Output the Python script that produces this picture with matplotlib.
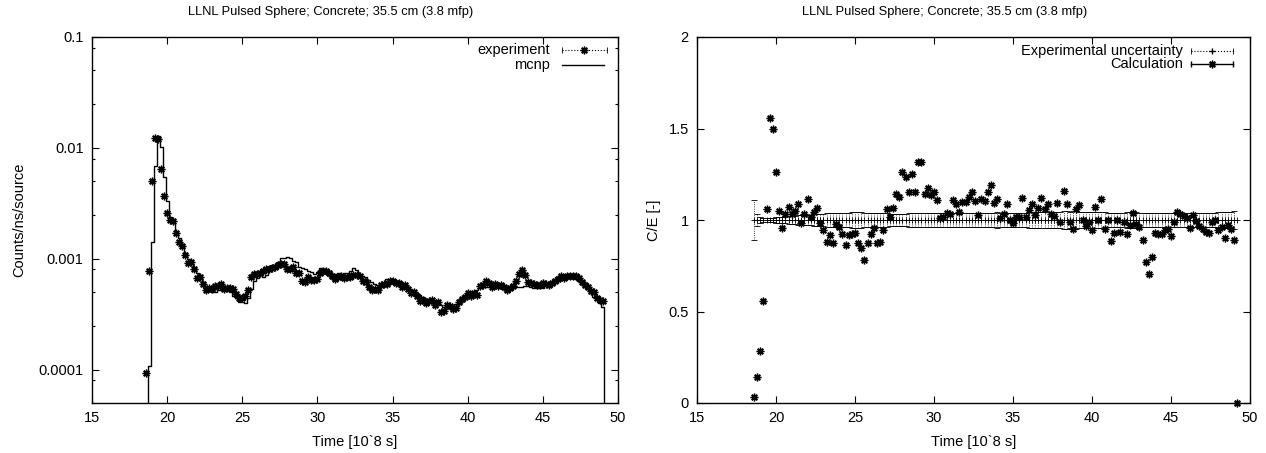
import numpy as np
import matplotlib
matplotlib.use('Agg')
import matplotlib.pyplot as plt
from matplotlib.ticker import FixedLocator, FixedFormatter, FuncFormatter

plt.rcParams['font.family'] = ['Liberation Sans', 'DejaVu Sans']
plt.rcParams['font.size'] = 10.5

title = 'LLNL Pulsed Sphere; Concrete; 35.5 cm (3.8 mfp)'
xlabel = 'Time [10`8 s]'

# time bin centres [10^-8 s], 18.6 ... 49.2 in steps of 0.2
time = np.round(np.arange(18.6, 49.21, 0.2), 1)

# mcnp histogram, counts/ns/source
mcnp = [
    3.2e-6, 1.08e-4, 1.43e-3, 6.85e-3, 1.27e-2, 1.01e-2, 5.5e-3, 3.3e-3, 2.36e-3,
    2.08e-3, 1.75e-3, 1.53e-3, 1.35e-3, 1.13e-3, 9.9e-4, 9.1e-4, 8.3e-4, 7.4e-4, 6.9e-4,
    6.2e-4, 5.6e-4, 5.3e-4, 5.0e-4, 5.0e-4, 5.2e-4, 5.2e-4, 5.2e-4, 5.2e-4, 5.0e-4,
    4.6e-4, 4.4e-4, 4.1e-4, 4.1e-4, 4.0e-4, 4.4e-4, 5.3e-4, 6.3e-4, 6.7e-4, 7.1e-4,
    6.8e-4, 7.1e-4, 7.7e-4, 8.8e-4, 8.6e-4, 9.4e-4, 1.02e-3, 1.02e-3, 1.03e-3, 1.01e-3,
    9.6e-4, 9.3e-4, 8.5e-4, 8.3e-4, 8.1e-4, 7.8e-4, 7.6e-4, 7.3e-4, 7.6e-4, 8.2e-4,
    7.9e-4, 7.9e-4, 7.8e-4, 7.2e-4, 7.3e-4, 7.4e-4, 7.3e-4, 7.4e-4, 7.5e-4, 7.7e-4,
    8.2e-4, 7.9e-4, 7.2e-4, 7.0e-4, 6.8e-4, 6.4e-4, 6.2e-4, 5.9e-4, 5.8e-4, 5.8e-4,
    6.1e-4, 6.5e-4, 6.3e-4, 6.2e-4, 6.1e-4, 6.1e-4, 6.2e-4, 5.9e-4, 5.6e-4, 5.3e-4,
    5.1e-4, 4.9e-4, 4.7e-4, 4.5e-4, 4.3e-4, 4.3e-4, 4.3e-4, 4.2e-4, 4.0e-4, 3.8e-4,
    3.7e-4, 3.8e-4, 3.6e-4, 3.7e-4, 3.9e-4, 4.1e-4, 4.2e-4, 4.5e-4, 4.6e-4, 4.9e-4,
    4.9e-4, 5.2e-4, 5.4e-4, 5.8e-4, 5.6e-4, 5.6e-4, 5.6e-4, 5.5e-4, 5.6e-4, 5.4e-4,
    5.4e-4, 5.4e-4, 5.3e-4, 5.5e-4, 5.6e-4, 5.6e-4, 5.6e-4, 5.7e-4, 5.7e-4, 5.6e-4,
    5.5e-4, 5.5e-4, 5.5e-4, 5.5e-4, 5.8e-4, 6.0e-4, 6.2e-4, 6.4e-4, 6.6e-4, 6.7e-4,
    6.9e-4, 6.9e-4, 6.8e-4, 6.7e-4, 6.5e-4, 6.3e-4, 6.1e-4, 5.8e-4, 5.3e-4, 4.9e-4,
    4.5e-4, 4.3e-4, 4.0e-4, 3.7e-4, 0.0,
]

# C/E ratio (right panel)
c_over_e = [
    0.034, 0.14, 0.286, 0.557, 1.06, 1.56, 1.496, 1.264, 1.05,
    0.955, 1.033, 1.073, 1.031, 1.051, 1.087, 0.982, 1.031, 1.113, 1.018,
    1.045, 1.067, 0.982, 0.945, 0.878, 0.918, 0.873, 0.978, 0.963, 0.922,
    0.863, 0.918, 0.923, 0.93, 0.873, 0.845, 0.781, 0.873, 0.923, 0.958,
    0.873, 0.881, 0.945, 1.058, 1.015, 1.064, 1.14, 1.127, 1.264, 1.237,
    1.151, 1.25, 1.151, 1.319, 1.319, 1.142, 1.173, 1.137, 1.151, 1.109,
    1.009, 1.018, 1.04, 1.033, 1.109, 1.087, 1.045, 1.1, 1.1, 1.127,
    1.155, 1.104, 1.027, 1.115, 1.105, 1.155, 1.19, 1.095, 1.113, 1.009,
    1.033, 1.087, 1.0, 0.982, 1.018, 1.018, 1.122, 1.018, 1.055, 1.086,
    1.027, 1.064, 1.119, 1.06, 1.086, 1.031, 1.02, 1.095, 0.991, 1.16,
    1.086, 0.99, 0.951, 1.06, 1.082, 1.0, 0.968, 0.99, 0.945, 1.073,
    1.002, 1.113, 0.951, 1.0, 0.887, 0.931, 1.0, 0.936, 0.99, 0.922,
    0.973, 1.036, 0.978, 0.964, 0.89, 0.772, 0.705, 0.796, 0.927, 0.922,
    0.922, 0.945, 0.951, 0.915, 0.99, 1.045, 1.033, 1.02, 1.009, 0.955,
    1.027, 0.995, 0.968, 0.949, 0.937, 0.931, 0.99, 1.0, 0.945, 0.964,
    0.903, 0.97, 0.95, 0.89, 0.0,
]

# relative experimental uncertainty
exp_unc = [
    0.107, 0.035, 0.014, 0.009, 0.009, 0.011, 0.013, 0.016, 0.017,
    0.018, 0.019, 0.020, 0.021, 0.023, 0.025, 0.026, 0.027, 0.029, 0.030,
    0.031, 0.033, 0.034, 0.035, 0.036, 0.036, 0.037, 0.037, 0.038, 0.038,
    0.039, 0.040, 0.041, 0.042, 0.042, 0.041, 0.040, 0.039, 0.038, 0.038,
    0.037, 0.037, 0.036, 0.036, 0.035, 0.035, 0.035, 0.034, 0.035, 0.035,
    0.036, 0.036, 0.037, 0.037, 0.038, 0.038, 0.038, 0.038, 0.037, 0.036,
    0.036, 0.036, 0.036, 0.037, 0.037, 0.037, 0.037, 0.037, 0.037, 0.037,
    0.036, 0.036, 0.037, 0.038, 0.038, 0.039, 0.040, 0.040, 0.041, 0.040,
    0.040, 0.039, 0.039, 0.040, 0.040, 0.040, 0.040, 0.040, 0.041, 0.042,
    0.042, 0.043, 0.043, 0.044, 0.044, 0.044, 0.044, 0.045, 0.046, 0.047,
    0.047, 0.046, 0.047, 0.047, 0.046, 0.045, 0.045, 0.044, 0.043, 0.043,
    0.043, 0.042, 0.041, 0.040, 0.040, 0.040, 0.040, 0.040, 0.040, 0.041,
    0.041, 0.041, 0.041, 0.040, 0.039, 0.037, 0.036, 0.037, 0.039, 0.040,
    0.040, 0.040, 0.040, 0.040, 0.040, 0.040, 0.040, 0.039, 0.038, 0.037,
    0.037, 0.037, 0.037, 0.037, 0.038, 0.038, 0.039, 0.040, 0.041, 0.043,
    0.044, 0.045, 0.046, 0.048, np.nan,
]

mcnp = np.array(mcnp)
ce = np.array(c_over_e)
exp_unc = np.array(exp_unc)
# experiment recovered from C/E
with np.errstate(divide='ignore', invalid='ignore'):
    experiment = mcnp / ce

star = (8, 2, 0)  # gnuplot style asterisk

fig = plt.figure(figsize=(12.66, 4.53), dpi=100)
ax1 = fig.add_axes([92 / 1266, 1 - 403 / 453, 526 / 1266, 366 / 453])
ax2 = fig.add_axes([697 / 1266, 1 - 403 / 453, 553 / 1266, 366 / 453])

#%% left: spectrum
ax1.step(time, mcnp, where='mid', color='k', lw=1.0)
ax1.plot(time, experiment, ls='none', marker=star, ms=5.5, mew=1.0, color='k')
ax1.set_yscale('log')
ax1.set_ylim(5e-5, 0.1)
ax1.set_xlim(15, 50)
ax1.yaxis.set_major_locator(FixedLocator([1e-4, 1e-3, 1e-2, 1e-1]))
ax1.yaxis.set_major_formatter(FixedFormatter(['0.0001', '0.001', '0.01', '0.1']))
minors = [m * d for d in [1e-5, 1e-4, 1e-3, 1e-2] for m in [2.5, 5, 8]]
ax1.yaxis.set_minor_locator(FixedLocator(minors))
ax1.yaxis.set_minor_formatter(FixedFormatter([''] * len(minors)))
ax1.set_ylabel('Counts/ns/source', labelpad=9)

# legend, gnuplot style
tr = ax1.transAxes
ax1.text(0.871, 0.9645, 'experiment', transform=tr, ha='right', va='center')
ax1.plot([0.8935, 0.979], [0.9645, 0.9645], transform=tr, color='k', ls=':', lw=0.8)
ax1.plot([0.8935, 0.979], [0.9645, 0.9645], transform=tr, ls='none', marker='|', ms=4, color='k', mew=0.6)
ax1.plot([0.936], [0.9645], transform=tr, ls='none', marker=star, ms=5.5, mew=1.0, color='k')
ax1.text(0.871, 0.9235, 'mcnp', transform=tr, ha='right', va='center')
ax1.plot([0.8935, 0.973], [0.9235, 0.9235], transform=tr, color='k', lw=1.0)

#%% right: C/E
eb = ax2.errorbar(time, np.ones_like(time), yerr=exp_unc, fmt='+', ms=4, mew=0.6,
                  color='k', ecolor='k', elinewidth=0.6, capsize=2, capthick=0.6)
eb[2][0].set_linestyle(':')
ax2.plot(time, ce, ls='none', marker=star, ms=5.5, mew=1.0, color='k', clip_on=False)
ax2.set_xlim(15, 50)
ax2.set_ylim(0, 2)
ax2.set_yticks([0, 0.5, 1, 1.5, 2])
ax2.set_ylabel('C/E [-]', labelpad=5)

tr = ax2.transAxes
ax2.text(0.879, 0.9626, 'Experimental uncertainty', transform=tr, ha='right', va='center')
ax2.plot([0.8928, 0.9693], [0.9626, 0.9626], transform=tr, color='k', ls=':', lw=0.8)
ax2.plot([0.8928, 0.9693], [0.9626, 0.9626], transform=tr, ls='none', marker='|', ms=4, color='k', mew=0.6)
ax2.plot([0.931], [0.9626], transform=tr, ls='none', marker='+', ms=5, mew=1.0, color='k')
ax2.text(0.879, 0.926, 'Calculation', transform=tr, ha='right', va='center')
ax2.plot([0.8928, 0.9693], [0.926, 0.926], transform=tr, color='k', lw=1.0)
ax2.plot([0.8928, 0.9693], [0.926, 0.926], transform=tr, ls='none', marker='|', ms=5, color='k', mew=1.0)
ax2.plot([0.931], [0.926], transform=tr, ls='none', marker=star, ms=5.5, mew=1.0, color='k')

# gnuplot puts the title a little left of the axes centre
ax1.set_title(title, fontsize=9.3, pad=16, x=0.454)
ax2.set_title(title, fontsize=9.3, pad=16, x=0.447)

for ax in (ax1, ax2):
    ax.set_xlabel(xlabel, labelpad=7)
    ax.set_xticks([15, 20, 25, 30, 35, 40, 45, 50])
    ax.xaxis.set_major_formatter(FuncFormatter(lambda v, p: '%g' % v))
    if ax is ax2:
        ax.yaxis.set_major_formatter(FuncFormatter(lambda v, p: '%g' % v))
    ax.tick_params(which='both', direction='in', top=True, right=True, width=0.8)
    ax.tick_params(which='major', length=5, pad=6)
    ax.tick_params(which='minor', length=2.5)
    for s in ax.spines.values():
        s.set_linewidth(1.0)

fig.savefig('out.png', dpi=100)
